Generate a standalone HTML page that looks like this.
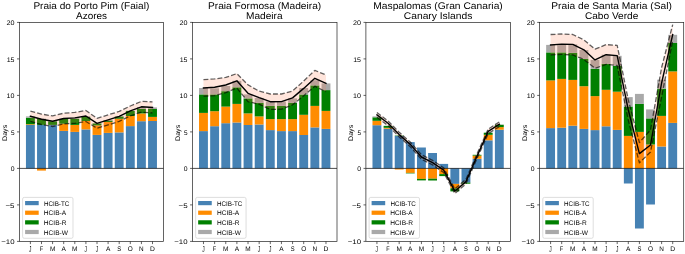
<!DOCTYPE html><html><head><meta charset="utf-8"><style>html,body{margin:0;padding:0;background:#fff;}svg{display:block;will-change:transform;}text{font-family:"Liberation Sans",sans-serif;fill:#000;text-rendering:geometricPrecision;}</style></head><body>
<svg width="685" height="254" viewBox="0 0 685 254">
<rect x="0" y="0" width="685" height="254" fill="#fff"/>
<g><rect x="25.95" y="124.90" width="8.88" height="43.50" fill="#4682b4"/><rect x="25.95" y="124.20" width="8.88" height="0.70" fill="#ff8c00"/><rect x="25.95" y="117.70" width="8.88" height="6.50" fill="#008000"/><rect x="25.95" y="116.40" width="8.88" height="1.30" fill="#a9a9a9"/><rect x="37.05" y="124.90" width="8.88" height="43.50" fill="#4682b4"/><rect x="37.05" y="119.00" width="8.88" height="5.90" fill="#008000"/><rect x="37.05" y="118.60" width="8.88" height="0.40" fill="#a9a9a9"/><rect x="37.05" y="168.40" width="8.88" height="2.20" fill="#ff8c00"/><rect x="48.15" y="124.90" width="8.88" height="43.50" fill="#4682b4"/><rect x="48.15" y="121.30" width="8.88" height="3.60" fill="#008000"/><rect x="48.15" y="121.00" width="8.88" height="0.30" fill="#a9a9a9"/><rect x="59.26" y="130.90" width="8.88" height="37.50" fill="#4682b4"/><rect x="59.26" y="123.70" width="8.88" height="7.20" fill="#ff8c00"/><rect x="59.26" y="119.00" width="8.88" height="4.70" fill="#008000"/><rect x="59.26" y="118.70" width="8.88" height="0.30" fill="#a9a9a9"/><rect x="70.36" y="131.90" width="8.88" height="36.50" fill="#4682b4"/><rect x="70.36" y="124.90" width="8.88" height="7.00" fill="#ff8c00"/><rect x="70.36" y="118.70" width="8.88" height="6.20" fill="#008000"/><rect x="70.36" y="117.90" width="8.88" height="0.80" fill="#a9a9a9"/><rect x="81.46" y="129.40" width="8.88" height="39.00" fill="#4682b4"/><rect x="81.46" y="121.00" width="8.88" height="8.40" fill="#ff8c00"/><rect x="81.46" y="117.00" width="8.88" height="4.00" fill="#008000"/><rect x="81.46" y="116.20" width="8.88" height="0.80" fill="#a9a9a9"/><rect x="92.56" y="134.90" width="8.88" height="33.50" fill="#4682b4"/><rect x="92.56" y="125.40" width="8.88" height="9.50" fill="#ff8c00"/><rect x="92.56" y="123.40" width="8.88" height="2.00" fill="#008000"/><rect x="92.56" y="123.20" width="8.88" height="0.20" fill="#a9a9a9"/><rect x="103.66" y="132.90" width="8.88" height="35.50" fill="#4682b4"/><rect x="103.66" y="122.00" width="8.88" height="10.90" fill="#ff8c00"/><rect x="103.66" y="120.50" width="8.88" height="1.50" fill="#008000"/><rect x="103.66" y="120.00" width="8.88" height="0.50" fill="#a9a9a9"/><rect x="114.76" y="132.40" width="8.88" height="36.00" fill="#4682b4"/><rect x="114.76" y="118.80" width="8.88" height="13.60" fill="#ff8c00"/><rect x="114.76" y="116.50" width="8.88" height="2.30" fill="#008000"/><rect x="114.76" y="116.30" width="8.88" height="0.20" fill="#a9a9a9"/><rect x="125.87" y="126.10" width="8.88" height="42.30" fill="#4682b4"/><rect x="125.87" y="116.00" width="8.88" height="10.10" fill="#ff8c00"/><rect x="125.87" y="110.90" width="8.88" height="5.10" fill="#008000"/><rect x="125.87" y="110.80" width="8.88" height="0.10" fill="#a9a9a9"/><rect x="136.97" y="121.20" width="8.88" height="47.20" fill="#4682b4"/><rect x="136.97" y="113.40" width="8.88" height="7.80" fill="#ff8c00"/><rect x="136.97" y="108.80" width="8.88" height="4.60" fill="#008000"/><rect x="136.97" y="107.00" width="8.88" height="1.80" fill="#a9a9a9"/><rect x="148.07" y="121.00" width="8.88" height="47.40" fill="#4682b4"/><rect x="148.07" y="116.90" width="8.88" height="4.10" fill="#ff8c00"/><rect x="148.07" y="109.00" width="8.88" height="7.90" fill="#008000"/><rect x="148.07" y="107.40" width="8.88" height="1.60" fill="#a9a9a9"/><polygon points="30.39,111.20 41.49,114.10 52.59,115.90 63.70,113.20 74.80,112.40 85.90,110.50 97.00,118.40 108.10,114.90 119.20,111.40 130.31,106.00 141.41,101.40 152.51,101.90 152.51,112.90 141.41,112.20 130.31,115.80 119.20,121.40 108.10,124.90 97.00,128.20 85.90,121.50 74.80,123.40 63.70,123.80 52.59,126.50 41.49,124.50 30.39,121.40" fill="rgb(255,127,80)" fill-opacity="0.2"/><polyline points="30.39,111.20 41.49,114.10 52.59,115.90 63.70,113.20 74.80,112.40 85.90,110.50 97.00,118.40 108.10,114.90 119.20,111.40 130.31,106.00 141.41,101.40 152.51,101.90" fill="none" stroke="#000" stroke-opacity="0.62" stroke-width="1.3" stroke-dasharray="4.9,2.1" stroke-linejoin="round"/><polyline points="30.39,121.40 41.49,124.50 52.59,126.50 63.70,123.80 74.80,123.40 85.90,121.50 97.00,128.20 108.10,124.90 119.20,121.40 130.31,115.80 141.41,112.20 152.51,112.90" fill="none" stroke="#000" stroke-opacity="0.62" stroke-width="1.3" stroke-dasharray="4.9,2.1" stroke-linejoin="round"/><polyline points="30.39,116.30 41.49,119.30 52.59,121.20 63.70,118.50 74.80,117.90 85.90,116.00 97.00,123.30 108.10,119.90 119.20,116.40 130.31,110.90 141.41,106.80 152.51,107.40" fill="none" stroke="#000" stroke-width="1.4" stroke-linejoin="round" stroke-linecap="square"/><line x1="19.40" y1="168.4" x2="163.50" y2="168.4" stroke="#000" stroke-width="0.7"/><rect x="19.40" y="22.4" width="144.10" height="219.00" fill="none" stroke="#222" stroke-width="0.7"/><line x1="17.00" y1="22.40" x2="19.40" y2="22.40" stroke="#222" stroke-width="0.7"/><text x="6.47" y="25.00" font-size="6.7" textLength="8.01" lengthAdjust="spacingAndGlyphs" >20</text><line x1="17.00" y1="58.90" x2="19.40" y2="58.90" stroke="#222" stroke-width="0.7"/><text x="6.68" y="61.50" font-size="6.7" textLength="7.82" lengthAdjust="spacingAndGlyphs" >15</text><line x1="17.00" y1="95.40" x2="19.40" y2="95.40" stroke="#222" stroke-width="0.7"/><text x="6.53" y="98.00" font-size="6.7" textLength="7.95" lengthAdjust="spacingAndGlyphs" >10</text><line x1="17.00" y1="131.90" x2="19.40" y2="131.90" stroke="#222" stroke-width="0.7"/><text x="10.88" y="134.50" font-size="6.7" textLength="3.60" lengthAdjust="spacingAndGlyphs" >5</text><line x1="17.00" y1="168.40" x2="19.40" y2="168.40" stroke="#222" stroke-width="0.7"/><text x="10.66" y="171.00" font-size="6.7" textLength="3.81" lengthAdjust="spacingAndGlyphs" >0</text><line x1="17.00" y1="204.90" x2="19.40" y2="204.90" stroke="#222" stroke-width="0.7"/><text x="5.48" y="207.50" font-size="6.7" textLength="9.05" lengthAdjust="spacingAndGlyphs" >−5</text><line x1="17.00" y1="241.40" x2="19.40" y2="241.40" stroke="#222" stroke-width="0.7"/><text x="1.22" y="244.00" font-size="6.7" textLength="13.29" lengthAdjust="spacingAndGlyphs" >−10</text><line x1="30.39" y1="241.4" x2="30.39" y2="244.10" stroke="#222" stroke-width="0.7"/><text x="0" y="0" font-size="6.7" transform="translate(29.08,252.20) scale(0.72,1.29)">J</text><line x1="41.49" y1="241.4" x2="41.49" y2="244.10" stroke="#222" stroke-width="0.7"/><text x="39.67" y="251.00" font-size="6.7" textLength="3.40" lengthAdjust="spacingAndGlyphs" >F</text><line x1="52.59" y1="241.4" x2="52.59" y2="244.10" stroke="#222" stroke-width="0.7"/><text x="49.89" y="251.00" font-size="6.7" textLength="5.40" lengthAdjust="spacingAndGlyphs" >M</text><line x1="63.70" y1="241.4" x2="63.70" y2="244.10" stroke="#222" stroke-width="0.7"/><text x="61.51" y="251.00" font-size="6.7" textLength="4.37" lengthAdjust="spacingAndGlyphs" >A</text><line x1="74.80" y1="241.4" x2="74.80" y2="244.10" stroke="#222" stroke-width="0.7"/><text x="72.10" y="251.00" font-size="6.7" textLength="5.40" lengthAdjust="spacingAndGlyphs" >M</text><line x1="85.90" y1="241.4" x2="85.90" y2="244.10" stroke="#222" stroke-width="0.7"/><text x="0" y="0" font-size="6.7" transform="translate(84.58,252.20) scale(0.72,1.29)">J</text><line x1="97.00" y1="241.4" x2="97.00" y2="244.10" stroke="#222" stroke-width="0.7"/><text x="0" y="0" font-size="6.7" transform="translate(95.69,252.20) scale(0.72,1.29)">J</text><line x1="108.10" y1="241.4" x2="108.10" y2="244.10" stroke="#222" stroke-width="0.7"/><text x="105.92" y="251.00" font-size="6.7" textLength="4.37" lengthAdjust="spacingAndGlyphs" >A</text><line x1="119.20" y1="241.4" x2="119.20" y2="244.10" stroke="#222" stroke-width="0.7"/><text x="117.27" y="251.00" font-size="6.7" textLength="3.87" lengthAdjust="spacingAndGlyphs" >S</text><line x1="130.31" y1="241.4" x2="130.31" y2="244.10" stroke="#222" stroke-width="0.7"/><text x="127.81" y="251.00" font-size="6.7" textLength="5.00" lengthAdjust="spacingAndGlyphs" >O</text><line x1="141.41" y1="241.4" x2="141.41" y2="244.10" stroke="#222" stroke-width="0.7"/><text x="139.09" y="251.00" font-size="6.7" textLength="4.64" lengthAdjust="spacingAndGlyphs" >N</text><line x1="152.51" y1="241.4" x2="152.51" y2="244.10" stroke="#222" stroke-width="0.7"/><text x="149.97" y="251.00" font-size="6.7" textLength="4.86" lengthAdjust="spacingAndGlyphs" >D</text><text x="0" y="0" font-size="6.7" text-anchor="middle" textLength="16.22" lengthAdjust="spacingAndGlyphs" transform="translate(6.60,132.90) rotate(-90)">Days</text><text x="33.40" y="8.60" font-size="9.7" textLength="115.90" lengthAdjust="spacingAndGlyphs" >Praia do Porto Pim (Faial)</text><text x="76.13" y="18.80" font-size="9.7" textLength="30.97" lengthAdjust="spacingAndGlyphs" >Azores</text><rect x="22.60" y="197.40" width="50.40" height="40.90" rx="1.6" fill="#fff" fill-opacity="0.8" stroke="#d0d0d0" stroke-width="0.7"/><rect x="25.10" y="201.00" width="13.6" height="4.2" fill="#4682b4"/><text x="43.89" y="205.70" font-size="6.7" textLength="25.44" lengthAdjust="spacingAndGlyphs" >HCIB-TC</text><rect x="25.10" y="210.63" width="13.6" height="4.2" fill="#ff8c00"/><text x="43.86" y="215.33" font-size="6.7" textLength="22.31" lengthAdjust="spacingAndGlyphs" >HCIB-A</text><rect x="25.10" y="220.26" width="13.6" height="4.2" fill="#008000"/><text x="43.86" y="224.96" font-size="6.7" textLength="22.69" lengthAdjust="spacingAndGlyphs" >HCIB-R</text><rect x="25.10" y="229.89" width="13.6" height="4.2" fill="#a9a9a9"/><text x="43.86" y="234.59" font-size="6.7" textLength="24.02" lengthAdjust="spacingAndGlyphs" >HCIB-W</text></g>
<g><rect x="199.03" y="131.10" width="8.88" height="37.30" fill="#4682b4"/><rect x="199.03" y="112.90" width="8.88" height="18.20" fill="#ff8c00"/><rect x="199.03" y="94.40" width="8.88" height="18.50" fill="#008000"/><rect x="199.03" y="88.00" width="8.88" height="6.40" fill="#a9a9a9"/><rect x="210.17" y="126.20" width="8.88" height="42.20" fill="#4682b4"/><rect x="210.17" y="111.20" width="8.88" height="15.00" fill="#ff8c00"/><rect x="210.17" y="94.40" width="8.88" height="16.80" fill="#008000"/><rect x="210.17" y="88.30" width="8.88" height="6.10" fill="#a9a9a9"/><rect x="221.31" y="123.20" width="8.88" height="45.20" fill="#4682b4"/><rect x="221.31" y="106.60" width="8.88" height="16.60" fill="#ff8c00"/><rect x="221.31" y="91.20" width="8.88" height="15.40" fill="#008000"/><rect x="221.31" y="86.00" width="8.88" height="5.20" fill="#a9a9a9"/><rect x="232.44" y="122.50" width="8.88" height="45.90" fill="#4682b4"/><rect x="232.44" y="103.90" width="8.88" height="18.60" fill="#ff8c00"/><rect x="232.44" y="87.30" width="8.88" height="16.60" fill="#008000"/><rect x="232.44" y="80.80" width="8.88" height="6.50" fill="#a9a9a9"/><rect x="243.58" y="125.00" width="8.88" height="43.40" fill="#4682b4"/><rect x="243.58" y="113.40" width="8.88" height="11.60" fill="#ff8c00"/><rect x="243.58" y="98.40" width="8.88" height="15.00" fill="#008000"/><rect x="243.58" y="94.40" width="8.88" height="4.00" fill="#a9a9a9"/><rect x="254.72" y="124.50" width="8.88" height="43.90" fill="#4682b4"/><rect x="254.72" y="116.40" width="8.88" height="8.10" fill="#ff8c00"/><rect x="254.72" y="102.90" width="8.88" height="13.50" fill="#008000"/><rect x="254.72" y="97.90" width="8.88" height="5.00" fill="#a9a9a9"/><rect x="265.85" y="130.10" width="8.88" height="38.30" fill="#4682b4"/><rect x="265.85" y="119.10" width="8.88" height="11.00" fill="#ff8c00"/><rect x="265.85" y="105.90" width="8.88" height="13.20" fill="#008000"/><rect x="265.85" y="101.40" width="8.88" height="4.50" fill="#a9a9a9"/><rect x="276.99" y="131.10" width="8.88" height="37.30" fill="#4682b4"/><rect x="276.99" y="119.10" width="8.88" height="12.00" fill="#ff8c00"/><rect x="276.99" y="105.90" width="8.88" height="13.20" fill="#008000"/><rect x="276.99" y="101.40" width="8.88" height="4.50" fill="#a9a9a9"/><rect x="288.13" y="131.10" width="8.88" height="37.30" fill="#4682b4"/><rect x="288.13" y="119.10" width="8.88" height="12.00" fill="#ff8c00"/><rect x="288.13" y="102.90" width="8.88" height="16.20" fill="#008000"/><rect x="288.13" y="98.40" width="8.88" height="4.50" fill="#a9a9a9"/><rect x="299.26" y="135.00" width="8.88" height="33.40" fill="#4682b4"/><rect x="299.26" y="114.80" width="8.88" height="20.20" fill="#ff8c00"/><rect x="299.26" y="94.50" width="8.88" height="20.30" fill="#008000"/><rect x="299.26" y="88.00" width="8.88" height="6.50" fill="#a9a9a9"/><rect x="310.40" y="127.40" width="8.88" height="41.00" fill="#4682b4"/><rect x="310.40" y="105.90" width="8.88" height="21.50" fill="#ff8c00"/><rect x="310.40" y="85.40" width="8.88" height="20.50" fill="#008000"/><rect x="310.40" y="80.20" width="8.88" height="5.20" fill="#a9a9a9"/><rect x="321.53" y="128.90" width="8.88" height="39.50" fill="#4682b4"/><rect x="321.53" y="110.90" width="8.88" height="18.00" fill="#ff8c00"/><rect x="321.53" y="90.10" width="8.88" height="20.80" fill="#008000"/><rect x="321.53" y="83.40" width="8.88" height="6.70" fill="#a9a9a9"/><polygon points="203.47,79.60 214.61,78.90 225.75,77.40 236.88,73.60 248.02,84.90 259.16,91.20 270.29,94.00 281.43,94.00 292.57,91.00 303.70,81.00 314.84,70.40 325.98,74.90 325.98,91.70 314.84,86.20 303.70,95.80 292.57,104.80 281.43,109.20 270.29,109.40 259.16,104.20 248.02,101.70 236.88,88.00 225.75,92.60 214.61,95.70 203.47,96.20" fill="rgb(255,127,80)" fill-opacity="0.2"/><polyline points="203.47,79.60 214.61,78.90 225.75,77.40 236.88,73.60 248.02,84.90 259.16,91.20 270.29,94.00 281.43,94.00 292.57,91.00 303.70,81.00 314.84,70.40 325.98,74.90" fill="none" stroke="#000" stroke-opacity="0.62" stroke-width="1.3" stroke-dasharray="4.9,2.1" stroke-linejoin="round"/><polyline points="203.47,96.20 214.61,95.70 225.75,92.60 236.88,88.00 248.02,101.70 259.16,104.20 270.29,109.40 281.43,109.20 292.57,104.80 303.70,95.80 314.84,86.20 325.98,91.70" fill="none" stroke="#000" stroke-opacity="0.62" stroke-width="1.3" stroke-dasharray="4.9,2.1" stroke-linejoin="round"/><polyline points="203.47,87.90 214.61,87.30 225.75,85.00 236.88,80.80 248.02,93.30 259.16,97.70 270.29,101.70 281.43,101.60 292.57,97.90 303.70,88.40 314.84,78.30 325.98,83.30" fill="none" stroke="#000" stroke-width="1.4" stroke-linejoin="round" stroke-linecap="square"/><line x1="192.45" y1="168.4" x2="337.00" y2="168.4" stroke="#000" stroke-width="0.7"/><rect x="192.45" y="22.4" width="144.55" height="219.00" fill="none" stroke="#222" stroke-width="0.7"/><line x1="190.05" y1="22.40" x2="192.45" y2="22.40" stroke="#222" stroke-width="0.7"/><text x="179.52" y="25.00" font-size="6.7" textLength="8.01" lengthAdjust="spacingAndGlyphs" >20</text><line x1="190.05" y1="58.90" x2="192.45" y2="58.90" stroke="#222" stroke-width="0.7"/><text x="179.73" y="61.50" font-size="6.7" textLength="7.82" lengthAdjust="spacingAndGlyphs" >15</text><line x1="190.05" y1="95.40" x2="192.45" y2="95.40" stroke="#222" stroke-width="0.7"/><text x="179.58" y="98.00" font-size="6.7" textLength="7.95" lengthAdjust="spacingAndGlyphs" >10</text><line x1="190.05" y1="131.90" x2="192.45" y2="131.90" stroke="#222" stroke-width="0.7"/><text x="183.93" y="134.50" font-size="6.7" textLength="3.60" lengthAdjust="spacingAndGlyphs" >5</text><line x1="190.05" y1="168.40" x2="192.45" y2="168.40" stroke="#222" stroke-width="0.7"/><text x="183.71" y="171.00" font-size="6.7" textLength="3.81" lengthAdjust="spacingAndGlyphs" >0</text><line x1="190.05" y1="204.90" x2="192.45" y2="204.90" stroke="#222" stroke-width="0.7"/><text x="178.53" y="207.50" font-size="6.7" textLength="9.05" lengthAdjust="spacingAndGlyphs" >−5</text><line x1="190.05" y1="241.40" x2="192.45" y2="241.40" stroke="#222" stroke-width="0.7"/><text x="174.27" y="244.00" font-size="6.7" textLength="13.29" lengthAdjust="spacingAndGlyphs" >−10</text><line x1="203.47" y1="241.4" x2="203.47" y2="244.10" stroke="#222" stroke-width="0.7"/><text x="0" y="0" font-size="6.7" transform="translate(202.16,252.20) scale(0.72,1.29)">J</text><line x1="214.61" y1="241.4" x2="214.61" y2="244.10" stroke="#222" stroke-width="0.7"/><text x="212.79" y="251.00" font-size="6.7" textLength="3.40" lengthAdjust="spacingAndGlyphs" >F</text><line x1="225.75" y1="241.4" x2="225.75" y2="244.10" stroke="#222" stroke-width="0.7"/><text x="223.05" y="251.00" font-size="6.7" textLength="5.40" lengthAdjust="spacingAndGlyphs" >M</text><line x1="236.88" y1="241.4" x2="236.88" y2="244.10" stroke="#222" stroke-width="0.7"/><text x="234.70" y="251.00" font-size="6.7" textLength="4.37" lengthAdjust="spacingAndGlyphs" >A</text><line x1="248.02" y1="241.4" x2="248.02" y2="244.10" stroke="#222" stroke-width="0.7"/><text x="245.32" y="251.00" font-size="6.7" textLength="5.40" lengthAdjust="spacingAndGlyphs" >M</text><line x1="259.16" y1="241.4" x2="259.16" y2="244.10" stroke="#222" stroke-width="0.7"/><text x="0" y="0" font-size="6.7" transform="translate(257.84,252.20) scale(0.72,1.29)">J</text><line x1="270.29" y1="241.4" x2="270.29" y2="244.10" stroke="#222" stroke-width="0.7"/><text x="0" y="0" font-size="6.7" transform="translate(268.98,252.20) scale(0.72,1.29)">J</text><line x1="281.43" y1="241.4" x2="281.43" y2="244.10" stroke="#222" stroke-width="0.7"/><text x="279.25" y="251.00" font-size="6.7" textLength="4.37" lengthAdjust="spacingAndGlyphs" >A</text><line x1="292.57" y1="241.4" x2="292.57" y2="244.10" stroke="#222" stroke-width="0.7"/><text x="290.63" y="251.00" font-size="6.7" textLength="3.87" lengthAdjust="spacingAndGlyphs" >S</text><line x1="303.70" y1="241.4" x2="303.70" y2="244.10" stroke="#222" stroke-width="0.7"/><text x="301.20" y="251.00" font-size="6.7" textLength="5.00" lengthAdjust="spacingAndGlyphs" >O</text><line x1="314.84" y1="241.4" x2="314.84" y2="244.10" stroke="#222" stroke-width="0.7"/><text x="312.52" y="251.00" font-size="6.7" textLength="4.64" lengthAdjust="spacingAndGlyphs" >N</text><line x1="325.98" y1="241.4" x2="325.98" y2="244.10" stroke="#222" stroke-width="0.7"/><text x="323.43" y="251.00" font-size="6.7" textLength="4.86" lengthAdjust="spacingAndGlyphs" >D</text><text x="0" y="0" font-size="6.7" text-anchor="middle" textLength="16.22" lengthAdjust="spacingAndGlyphs" transform="translate(179.65,132.90) rotate(-90)">Days</text><text x="207.98" y="8.60" font-size="9.7" textLength="113.29" lengthAdjust="spacingAndGlyphs" >Praia Formosa (Madeira)</text><text x="246.05" y="18.80" font-size="9.7" textLength="36.53" lengthAdjust="spacingAndGlyphs" >Madeira</text><rect x="195.65" y="197.40" width="50.40" height="40.90" rx="1.6" fill="#fff" fill-opacity="0.8" stroke="#d0d0d0" stroke-width="0.7"/><rect x="198.15" y="201.00" width="13.6" height="4.2" fill="#4682b4"/><text x="216.94" y="205.70" font-size="6.7" textLength="25.44" lengthAdjust="spacingAndGlyphs" >HCIB-TC</text><rect x="198.15" y="210.63" width="13.6" height="4.2" fill="#ff8c00"/><text x="216.91" y="215.33" font-size="6.7" textLength="22.31" lengthAdjust="spacingAndGlyphs" >HCIB-A</text><rect x="198.15" y="220.26" width="13.6" height="4.2" fill="#008000"/><text x="216.91" y="224.96" font-size="6.7" textLength="22.69" lengthAdjust="spacingAndGlyphs" >HCIB-R</text><rect x="198.15" y="229.89" width="13.6" height="4.2" fill="#a9a9a9"/><text x="216.91" y="234.59" font-size="6.7" textLength="24.02" lengthAdjust="spacingAndGlyphs" >HCIB-W</text></g>
<g><rect x="372.48" y="125.20" width="8.88" height="43.20" fill="#4682b4"/><rect x="372.48" y="120.80" width="8.88" height="4.40" fill="#ff8c00"/><rect x="372.48" y="117.30" width="8.88" height="3.50" fill="#008000"/><rect x="372.48" y="116.40" width="8.88" height="0.90" fill="#a9a9a9"/><rect x="383.61" y="128.70" width="8.88" height="39.70" fill="#4682b4"/><rect x="383.61" y="127.80" width="8.88" height="0.90" fill="#ff8c00"/><rect x="383.61" y="125.90" width="8.88" height="1.90" fill="#008000"/><rect x="383.61" y="125.70" width="8.88" height="0.20" fill="#a9a9a9"/><rect x="394.73" y="135.90" width="8.88" height="32.50" fill="#4682b4"/><rect x="394.73" y="135.50" width="8.88" height="0.40" fill="#008000"/><rect x="394.73" y="168.40" width="8.88" height="1.10" fill="#ff8c00"/><rect x="405.86" y="142.10" width="8.88" height="26.30" fill="#4682b4"/><rect x="405.86" y="168.40" width="8.88" height="4.50" fill="#ff8c00"/><rect x="405.86" y="172.90" width="8.88" height="0.50" fill="#008000"/><rect x="416.99" y="147.50" width="8.88" height="20.90" fill="#4682b4"/><rect x="416.99" y="168.40" width="8.88" height="10.50" fill="#ff8c00"/><rect x="416.99" y="178.90" width="8.88" height="1.50" fill="#008000"/><rect x="428.12" y="153.00" width="8.88" height="15.40" fill="#4682b4"/><rect x="428.12" y="168.40" width="8.88" height="10.30" fill="#ff8c00"/><rect x="428.12" y="178.70" width="8.88" height="1.80" fill="#008000"/><rect x="439.25" y="163.90" width="8.88" height="4.50" fill="#4682b4"/><rect x="439.25" y="168.40" width="8.88" height="5.70" fill="#ff8c00"/><rect x="439.25" y="174.10" width="8.88" height="2.00" fill="#008000"/><rect x="450.38" y="168.40" width="8.88" height="15.50" fill="#4682b4"/><rect x="450.38" y="183.90" width="8.88" height="4.50" fill="#ff8c00"/><rect x="450.38" y="188.40" width="8.88" height="3.00" fill="#008000"/><rect x="461.51" y="168.40" width="8.88" height="14.20" fill="#4682b4"/><rect x="461.51" y="182.60" width="8.88" height="1.10" fill="#008000"/><rect x="472.63" y="158.80" width="8.88" height="9.60" fill="#4682b4"/><rect x="472.63" y="155.60" width="8.88" height="3.20" fill="#ff8c00"/><rect x="472.63" y="154.80" width="8.88" height="0.80" fill="#008000"/><rect x="483.76" y="140.30" width="8.88" height="28.10" fill="#4682b4"/><rect x="483.76" y="134.80" width="8.88" height="5.50" fill="#ff8c00"/><rect x="483.76" y="132.70" width="8.88" height="2.10" fill="#008000"/><rect x="494.89" y="129.70" width="8.88" height="38.70" fill="#4682b4"/><rect x="494.89" y="127.10" width="8.88" height="2.60" fill="#ff8c00"/><rect x="494.89" y="124.80" width="8.88" height="2.30" fill="#008000"/><rect x="494.89" y="124.50" width="8.88" height="0.30" fill="#a9a9a9"/><polygon points="376.92,112.60 388.05,121.00 399.17,132.30 410.30,142.10 421.43,154.70 432.56,160.30 443.69,167.90 454.82,188.90 465.95,179.30 477.08,153.70 488.20,129.10 499.33,122.00 499.33,126.60 488.20,133.70 477.08,158.30 465.95,183.90 454.82,193.50 443.69,172.50 432.56,164.90 421.43,159.30 410.30,146.70 399.17,136.90 388.05,125.60 376.92,117.20" fill="rgb(255,127,80)" fill-opacity="0.2"/><polyline points="376.92,112.60 388.05,121.00 399.17,132.30 410.30,142.10 421.43,154.70 432.56,160.30 443.69,167.90 454.82,188.90 465.95,179.30 477.08,153.70 488.20,129.10 499.33,122.00" fill="none" stroke="#000" stroke-opacity="0.62" stroke-width="1.3" stroke-dasharray="4.9,2.1" stroke-linejoin="round"/><polyline points="376.92,117.20 388.05,125.60 399.17,136.90 410.30,146.70 421.43,159.30 432.56,164.90 443.69,172.50 454.82,193.50 465.95,183.90 477.08,158.30 488.20,133.70 499.33,126.60" fill="none" stroke="#000" stroke-opacity="0.62" stroke-width="1.3" stroke-dasharray="4.9,2.1" stroke-linejoin="round"/><polyline points="376.92,114.90 388.05,123.30 399.17,134.60 410.30,144.40 421.43,157.00 432.56,162.60 443.69,170.20 454.82,191.20 465.95,181.60 477.08,156.00 488.20,131.40 499.33,124.30" fill="none" stroke="#000" stroke-width="1.4" stroke-linejoin="round" stroke-linecap="square"/><line x1="365.90" y1="168.4" x2="510.35" y2="168.4" stroke="#000" stroke-width="0.7"/><rect x="365.90" y="22.4" width="144.45" height="219.00" fill="none" stroke="#222" stroke-width="0.7"/><line x1="363.50" y1="22.40" x2="365.90" y2="22.40" stroke="#222" stroke-width="0.7"/><text x="352.97" y="25.00" font-size="6.7" textLength="8.01" lengthAdjust="spacingAndGlyphs" >20</text><line x1="363.50" y1="58.90" x2="365.90" y2="58.90" stroke="#222" stroke-width="0.7"/><text x="353.18" y="61.50" font-size="6.7" textLength="7.82" lengthAdjust="spacingAndGlyphs" >15</text><line x1="363.50" y1="95.40" x2="365.90" y2="95.40" stroke="#222" stroke-width="0.7"/><text x="353.03" y="98.00" font-size="6.7" textLength="7.95" lengthAdjust="spacingAndGlyphs" >10</text><line x1="363.50" y1="131.90" x2="365.90" y2="131.90" stroke="#222" stroke-width="0.7"/><text x="357.38" y="134.50" font-size="6.7" textLength="3.60" lengthAdjust="spacingAndGlyphs" >5</text><line x1="363.50" y1="168.40" x2="365.90" y2="168.40" stroke="#222" stroke-width="0.7"/><text x="357.16" y="171.00" font-size="6.7" textLength="3.81" lengthAdjust="spacingAndGlyphs" >0</text><line x1="363.50" y1="204.90" x2="365.90" y2="204.90" stroke="#222" stroke-width="0.7"/><text x="351.98" y="207.50" font-size="6.7" textLength="9.05" lengthAdjust="spacingAndGlyphs" >−5</text><line x1="363.50" y1="241.40" x2="365.90" y2="241.40" stroke="#222" stroke-width="0.7"/><text x="347.72" y="244.00" font-size="6.7" textLength="13.29" lengthAdjust="spacingAndGlyphs" >−10</text><line x1="376.92" y1="241.4" x2="376.92" y2="244.10" stroke="#222" stroke-width="0.7"/><text x="0" y="0" font-size="6.7" transform="translate(375.60,252.20) scale(0.72,1.29)">J</text><line x1="388.05" y1="241.4" x2="388.05" y2="244.10" stroke="#222" stroke-width="0.7"/><text x="386.23" y="251.00" font-size="6.7" textLength="3.40" lengthAdjust="spacingAndGlyphs" >F</text><line x1="399.17" y1="241.4" x2="399.17" y2="244.10" stroke="#222" stroke-width="0.7"/><text x="396.48" y="251.00" font-size="6.7" textLength="5.40" lengthAdjust="spacingAndGlyphs" >M</text><line x1="410.30" y1="241.4" x2="410.30" y2="244.10" stroke="#222" stroke-width="0.7"/><text x="408.12" y="251.00" font-size="6.7" textLength="4.37" lengthAdjust="spacingAndGlyphs" >A</text><line x1="421.43" y1="241.4" x2="421.43" y2="244.10" stroke="#222" stroke-width="0.7"/><text x="418.73" y="251.00" font-size="6.7" textLength="5.40" lengthAdjust="spacingAndGlyphs" >M</text><line x1="432.56" y1="241.4" x2="432.56" y2="244.10" stroke="#222" stroke-width="0.7"/><text x="0" y="0" font-size="6.7" transform="translate(431.25,252.20) scale(0.72,1.29)">J</text><line x1="443.69" y1="241.4" x2="443.69" y2="244.10" stroke="#222" stroke-width="0.7"/><text x="0" y="0" font-size="6.7" transform="translate(442.37,252.20) scale(0.72,1.29)">J</text><line x1="454.82" y1="241.4" x2="454.82" y2="244.10" stroke="#222" stroke-width="0.7"/><text x="452.63" y="251.00" font-size="6.7" textLength="4.37" lengthAdjust="spacingAndGlyphs" >A</text><line x1="465.95" y1="241.4" x2="465.95" y2="244.10" stroke="#222" stroke-width="0.7"/><text x="464.02" y="251.00" font-size="6.7" textLength="3.87" lengthAdjust="spacingAndGlyphs" >S</text><line x1="477.08" y1="241.4" x2="477.08" y2="244.10" stroke="#222" stroke-width="0.7"/><text x="474.58" y="251.00" font-size="6.7" textLength="5.00" lengthAdjust="spacingAndGlyphs" >O</text><line x1="488.20" y1="241.4" x2="488.20" y2="244.10" stroke="#222" stroke-width="0.7"/><text x="485.88" y="251.00" font-size="6.7" textLength="4.64" lengthAdjust="spacingAndGlyphs" >N</text><line x1="499.33" y1="241.4" x2="499.33" y2="244.10" stroke="#222" stroke-width="0.7"/><text x="496.79" y="251.00" font-size="6.7" textLength="4.86" lengthAdjust="spacingAndGlyphs" >D</text><text x="0" y="0" font-size="6.7" text-anchor="middle" textLength="16.22" lengthAdjust="spacingAndGlyphs" transform="translate(353.10,132.90) rotate(-90)">Days</text><text x="373.27" y="8.60" font-size="9.7" textLength="129.50" lengthAdjust="spacingAndGlyphs" >Maspalomas (Gran Canaria)</text><text x="403.80" y="18.80" font-size="9.7" textLength="68.50" lengthAdjust="spacingAndGlyphs" >Canary Islands</text><rect x="369.10" y="197.40" width="50.40" height="40.90" rx="1.6" fill="#fff" fill-opacity="0.8" stroke="#d0d0d0" stroke-width="0.7"/><rect x="371.60" y="201.00" width="13.6" height="4.2" fill="#4682b4"/><text x="390.39" y="205.70" font-size="6.7" textLength="25.44" lengthAdjust="spacingAndGlyphs" >HCIB-TC</text><rect x="371.60" y="210.63" width="13.6" height="4.2" fill="#ff8c00"/><text x="390.36" y="215.33" font-size="6.7" textLength="22.31" lengthAdjust="spacingAndGlyphs" >HCIB-A</text><rect x="371.60" y="220.26" width="13.6" height="4.2" fill="#008000"/><text x="390.36" y="224.96" font-size="6.7" textLength="22.69" lengthAdjust="spacingAndGlyphs" >HCIB-R</text><rect x="371.60" y="229.89" width="13.6" height="4.2" fill="#a9a9a9"/><text x="390.36" y="234.59" font-size="6.7" textLength="24.02" lengthAdjust="spacingAndGlyphs" >HCIB-W</text></g>
<g><rect x="546.15" y="128.10" width="8.88" height="40.30" fill="#4682b4"/><rect x="546.15" y="80.40" width="8.88" height="47.70" fill="#ff8c00"/><rect x="546.15" y="52.40" width="8.88" height="28.00" fill="#008000"/><rect x="546.15" y="44.90" width="8.88" height="7.50" fill="#a9a9a9"/><rect x="557.25" y="127.70" width="8.88" height="40.70" fill="#4682b4"/><rect x="557.25" y="78.90" width="8.88" height="48.80" fill="#ff8c00"/><rect x="557.25" y="52.40" width="8.88" height="26.50" fill="#008000"/><rect x="557.25" y="44.10" width="8.88" height="8.30" fill="#a9a9a9"/><rect x="568.35" y="125.70" width="8.88" height="42.70" fill="#4682b4"/><rect x="568.35" y="79.90" width="8.88" height="45.80" fill="#ff8c00"/><rect x="568.35" y="52.90" width="8.88" height="27.00" fill="#008000"/><rect x="568.35" y="44.40" width="8.88" height="8.50" fill="#a9a9a9"/><rect x="579.46" y="128.90" width="8.88" height="39.50" fill="#4682b4"/><rect x="579.46" y="86.20" width="8.88" height="42.70" fill="#ff8c00"/><rect x="579.46" y="58.90" width="8.88" height="27.30" fill="#008000"/><rect x="579.46" y="50.00" width="8.88" height="8.90" fill="#a9a9a9"/><rect x="590.56" y="130.10" width="8.88" height="38.30" fill="#4682b4"/><rect x="590.56" y="96.10" width="8.88" height="34.00" fill="#ff8c00"/><rect x="590.56" y="68.80" width="8.88" height="27.30" fill="#008000"/><rect x="590.56" y="59.90" width="8.88" height="8.90" fill="#a9a9a9"/><rect x="601.66" y="126.30" width="8.88" height="42.10" fill="#4682b4"/><rect x="601.66" y="89.80" width="8.88" height="36.50" fill="#ff8c00"/><rect x="601.66" y="63.90" width="8.88" height="25.90" fill="#008000"/><rect x="601.66" y="54.70" width="8.88" height="9.20" fill="#a9a9a9"/><rect x="612.76" y="129.90" width="8.88" height="38.50" fill="#4682b4"/><rect x="612.76" y="91.70" width="8.88" height="38.20" fill="#ff8c00"/><rect x="612.76" y="65.80" width="8.88" height="25.90" fill="#008000"/><rect x="612.76" y="55.80" width="8.88" height="10.00" fill="#a9a9a9"/><rect x="623.86" y="135.90" width="8.88" height="32.50" fill="#ff8c00"/><rect x="623.86" y="106.50" width="8.88" height="29.40" fill="#008000"/><rect x="623.86" y="97.10" width="8.88" height="9.40" fill="#a9a9a9"/><rect x="623.86" y="168.40" width="8.88" height="15.10" fill="#4682b4"/><rect x="634.96" y="131.90" width="8.88" height="36.50" fill="#ff8c00"/><rect x="634.96" y="103.90" width="8.88" height="28.00" fill="#008000"/><rect x="634.96" y="93.90" width="8.88" height="10.00" fill="#a9a9a9"/><rect x="634.96" y="168.40" width="8.88" height="60.10" fill="#4682b4"/><rect x="646.07" y="144.50" width="8.88" height="23.90" fill="#ff8c00"/><rect x="646.07" y="118.40" width="8.88" height="26.10" fill="#008000"/><rect x="646.07" y="109.40" width="8.88" height="9.00" fill="#a9a9a9"/><rect x="646.07" y="168.40" width="8.88" height="36.10" fill="#4682b4"/><rect x="657.17" y="146.50" width="8.88" height="21.90" fill="#4682b4"/><rect x="657.17" y="115.90" width="8.88" height="30.60" fill="#ff8c00"/><rect x="657.17" y="88.60" width="8.88" height="27.30" fill="#008000"/><rect x="657.17" y="79.70" width="8.88" height="8.90" fill="#a9a9a9"/><rect x="668.27" y="122.90" width="8.88" height="45.50" fill="#4682b4"/><rect x="668.27" y="71.40" width="8.88" height="51.50" fill="#ff8c00"/><rect x="668.27" y="43.00" width="8.88" height="28.40" fill="#008000"/><rect x="668.27" y="34.80" width="8.88" height="8.20" fill="#a9a9a9"/><polygon points="550.59,34.50 561.69,34.00 572.79,34.50 583.90,39.90 595.00,49.20 606.10,44.60 617.20,45.40 628.30,100.00 639.40,142.50 650.51,130.00 661.61,67.50 672.71,24.60 672.71,40.50 661.61,96.80 650.51,152.00 639.40,162.80 628.30,120.00 617.20,65.50 606.10,64.40 595.00,68.30 583.90,59.40 572.79,54.90 561.69,54.40 550.59,54.90" fill="rgb(255,127,80)" fill-opacity="0.2"/><polyline points="550.59,34.50 561.69,34.00 572.79,34.50 583.90,39.90 595.00,49.20 606.10,44.60 617.20,45.40 628.30,100.00 639.40,142.50 650.51,130.00 661.61,67.50 672.71,24.60" fill="none" stroke="#000" stroke-opacity="0.62" stroke-width="1.3" stroke-dasharray="4.9,2.1" stroke-linejoin="round"/><polyline points="550.59,54.90 561.69,54.40 572.79,54.90 583.90,59.40 595.00,68.30 606.10,64.40 617.20,65.50 628.30,120.00 639.40,162.80 650.51,152.00 661.61,96.80 672.71,40.50" fill="none" stroke="#000" stroke-opacity="0.62" stroke-width="1.3" stroke-dasharray="4.9,2.1" stroke-linejoin="round"/><polyline points="550.59,44.90 561.69,44.10 572.79,44.40 583.90,49.80 595.00,59.90 606.10,54.70 617.20,55.60 628.30,110.00 639.40,153.60 650.51,145.00 661.61,83.00 672.71,34.50" fill="none" stroke="#000" stroke-width="1.4" stroke-linejoin="round" stroke-linecap="square"/><line x1="539.60" y1="168.4" x2="683.70" y2="168.4" stroke="#000" stroke-width="0.7"/><rect x="539.60" y="22.4" width="144.10" height="219.00" fill="none" stroke="#222" stroke-width="0.7"/><line x1="537.20" y1="22.40" x2="539.60" y2="22.40" stroke="#222" stroke-width="0.7"/><text x="526.67" y="25.00" font-size="6.7" textLength="8.01" lengthAdjust="spacingAndGlyphs" >20</text><line x1="537.20" y1="58.90" x2="539.60" y2="58.90" stroke="#222" stroke-width="0.7"/><text x="526.88" y="61.50" font-size="6.7" textLength="7.82" lengthAdjust="spacingAndGlyphs" >15</text><line x1="537.20" y1="95.40" x2="539.60" y2="95.40" stroke="#222" stroke-width="0.7"/><text x="526.73" y="98.00" font-size="6.7" textLength="7.95" lengthAdjust="spacingAndGlyphs" >10</text><line x1="537.20" y1="131.90" x2="539.60" y2="131.90" stroke="#222" stroke-width="0.7"/><text x="531.08" y="134.50" font-size="6.7" textLength="3.60" lengthAdjust="spacingAndGlyphs" >5</text><line x1="537.20" y1="168.40" x2="539.60" y2="168.40" stroke="#222" stroke-width="0.7"/><text x="530.86" y="171.00" font-size="6.7" textLength="3.81" lengthAdjust="spacingAndGlyphs" >0</text><line x1="537.20" y1="204.90" x2="539.60" y2="204.90" stroke="#222" stroke-width="0.7"/><text x="525.68" y="207.50" font-size="6.7" textLength="9.05" lengthAdjust="spacingAndGlyphs" >−5</text><line x1="537.20" y1="241.40" x2="539.60" y2="241.40" stroke="#222" stroke-width="0.7"/><text x="521.42" y="244.00" font-size="6.7" textLength="13.29" lengthAdjust="spacingAndGlyphs" >−10</text><line x1="550.59" y1="241.4" x2="550.59" y2="244.10" stroke="#222" stroke-width="0.7"/><text x="0" y="0" font-size="6.7" transform="translate(549.28,252.20) scale(0.72,1.29)">J</text><line x1="561.69" y1="241.4" x2="561.69" y2="244.10" stroke="#222" stroke-width="0.7"/><text x="559.87" y="251.00" font-size="6.7" textLength="3.40" lengthAdjust="spacingAndGlyphs" >F</text><line x1="572.79" y1="241.4" x2="572.79" y2="244.10" stroke="#222" stroke-width="0.7"/><text x="570.09" y="251.00" font-size="6.7" textLength="5.40" lengthAdjust="spacingAndGlyphs" >M</text><line x1="583.90" y1="241.4" x2="583.90" y2="244.10" stroke="#222" stroke-width="0.7"/><text x="581.71" y="251.00" font-size="6.7" textLength="4.37" lengthAdjust="spacingAndGlyphs" >A</text><line x1="595.00" y1="241.4" x2="595.00" y2="244.10" stroke="#222" stroke-width="0.7"/><text x="592.30" y="251.00" font-size="6.7" textLength="5.40" lengthAdjust="spacingAndGlyphs" >M</text><line x1="606.10" y1="241.4" x2="606.10" y2="244.10" stroke="#222" stroke-width="0.7"/><text x="0" y="0" font-size="6.7" transform="translate(604.78,252.20) scale(0.72,1.29)">J</text><line x1="617.20" y1="241.4" x2="617.20" y2="244.10" stroke="#222" stroke-width="0.7"/><text x="0" y="0" font-size="6.7" transform="translate(615.89,252.20) scale(0.72,1.29)">J</text><line x1="628.30" y1="241.4" x2="628.30" y2="244.10" stroke="#222" stroke-width="0.7"/><text x="626.12" y="251.00" font-size="6.7" textLength="4.37" lengthAdjust="spacingAndGlyphs" >A</text><line x1="639.40" y1="241.4" x2="639.40" y2="244.10" stroke="#222" stroke-width="0.7"/><text x="637.47" y="251.00" font-size="6.7" textLength="3.87" lengthAdjust="spacingAndGlyphs" >S</text><line x1="650.51" y1="241.4" x2="650.51" y2="244.10" stroke="#222" stroke-width="0.7"/><text x="648.01" y="251.00" font-size="6.7" textLength="5.00" lengthAdjust="spacingAndGlyphs" >O</text><line x1="661.61" y1="241.4" x2="661.61" y2="244.10" stroke="#222" stroke-width="0.7"/><text x="659.29" y="251.00" font-size="6.7" textLength="4.64" lengthAdjust="spacingAndGlyphs" >N</text><line x1="672.71" y1="241.4" x2="672.71" y2="244.10" stroke="#222" stroke-width="0.7"/><text x="670.17" y="251.00" font-size="6.7" textLength="4.86" lengthAdjust="spacingAndGlyphs" >D</text><text x="0" y="0" font-size="6.7" text-anchor="middle" textLength="16.22" lengthAdjust="spacingAndGlyphs" transform="translate(526.80,132.90) rotate(-90)">Days</text><text x="551.26" y="8.60" font-size="9.7" textLength="120.58" lengthAdjust="spacingAndGlyphs" >Praia de Santa Maria (Sal)</text><text x="584.96" y="18.80" font-size="9.7" textLength="53.33" lengthAdjust="spacingAndGlyphs" >Cabo Verde</text><rect x="542.80" y="197.40" width="50.40" height="40.90" rx="1.6" fill="#fff" fill-opacity="0.8" stroke="#d0d0d0" stroke-width="0.7"/><rect x="545.30" y="201.00" width="13.6" height="4.2" fill="#4682b4"/><text x="564.09" y="205.70" font-size="6.7" textLength="25.44" lengthAdjust="spacingAndGlyphs" >HCIB-TC</text><rect x="545.30" y="210.63" width="13.6" height="4.2" fill="#ff8c00"/><text x="564.06" y="215.33" font-size="6.7" textLength="22.31" lengthAdjust="spacingAndGlyphs" >HCIB-A</text><rect x="545.30" y="220.26" width="13.6" height="4.2" fill="#008000"/><text x="564.06" y="224.96" font-size="6.7" textLength="22.69" lengthAdjust="spacingAndGlyphs" >HCIB-R</text><rect x="545.30" y="229.89" width="13.6" height="4.2" fill="#a9a9a9"/><text x="564.06" y="234.59" font-size="6.7" textLength="24.02" lengthAdjust="spacingAndGlyphs" >HCIB-W</text></g>
</svg></body></html>
